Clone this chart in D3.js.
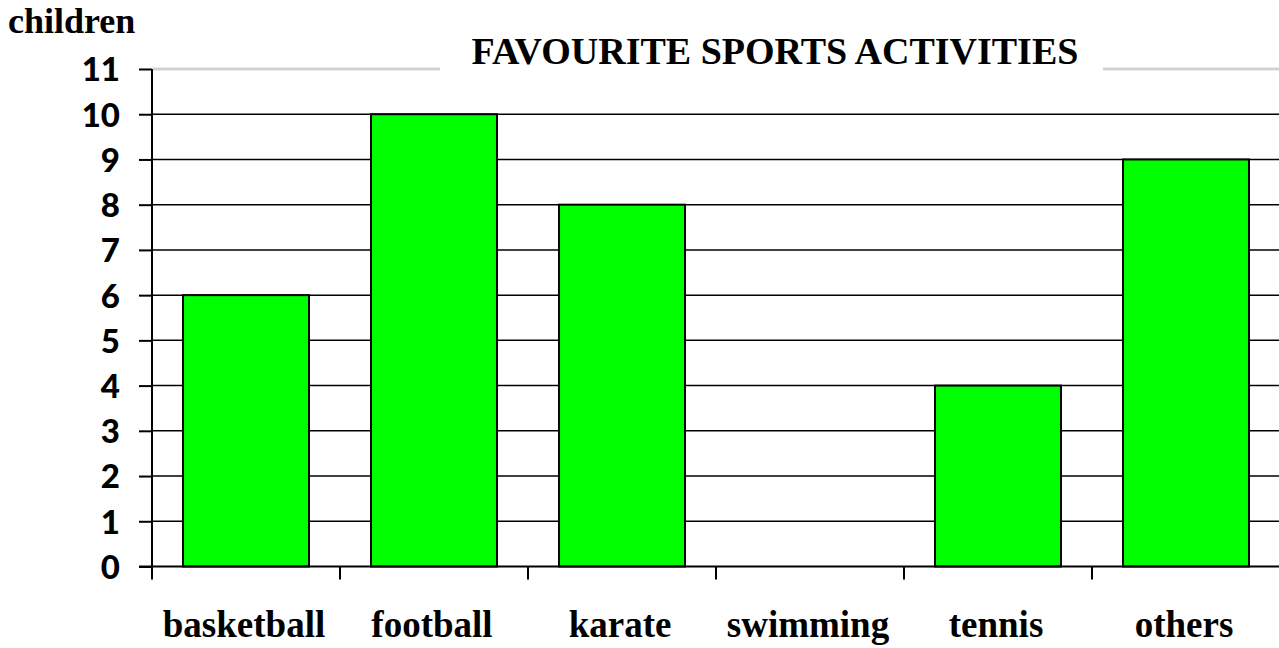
<!DOCTYPE html>
<html>
<head>
<meta charset="utf-8">
<script src="https://cdn.jsdelivr.net/npm/d3@7"></script>
<style>
  body { margin: 0; background: #fff; }
  .ylab { font-family: Lato, "Liberation Sans", sans-serif; font-weight: 900; font-size: 33px; }
  .serif { font-family: "Liberation Serif", "Times New Roman", serif; font-weight: bold; }
</style>
</head>
<body>
<div id="chart"></div>
<script>

var categories = ["basketball", "football", "karate", "swimming", "tennis", "others"];
var values = [6, 10, 8, 0, 4, 9];
var yTicks = [0, 1, 2, 3, 4, 5, 6, 7, 8, 9, 10, 11];
var title = "FAVOURITE SPORTS ACTIVITIES";
var yTitle = "children";

var width = 1279, height = 648;
var margin = { left: 152, right: 0, top: 69, bottom: 81 };

var svg = d3.select("#chart")
    .append("svg")
    .attr("width", width)
    .attr("height", height);

// slots for the ticks, bands for the bars
var xSlot = d3.scaleBand()
    .domain(categories)
    .range([margin.left, 1280])
    .padding(0);

var x = d3.scaleBand()
    .domain(categories)
    .range([margin.left, 1280])
    .paddingInner(0.33)
    .paddingOuter(0.165);

var y = d3.scaleLinear()
    .domain([0, 11])
    .range([height - margin.bottom - 0.5, margin.top]);

// gridlines 1..10
svg.selectAll(".grid")
    .data(yTicks.filter(function(d){ return d > 0 && d < 11; }))
    .enter()
    .append("line")
    .attr("class", "grid")
    .attr("x1", margin.left)
    .attr("x2", width)
    .attr("y1", function(d){ return y(d); })
    .attr("y2", function(d){ return y(d); })
    .style("stroke", "#000")
    .style("stroke-width", 1.5);

// top double grey line
[-0.8, 0.8].forEach(function(off){
    svg.append("line")
        .attr("x1", margin.left + 1)
        .attr("x2", width)
        .attr("y1", y(11) + off)
        .attr("y2", y(11) + off)
        .style("stroke", "#bdbdbd")
        .style("stroke-width", 1);
});

// white box behind the title, cuts the top line
svg.append("rect")
    .attr("x", 440).attr("y", 30)
    .attr("width", 1103 - 440).attr("height", 50)
    .style("fill", "#fff");

// bars
svg.selectAll(".bar")
    .data(values)
    .enter()
    .append("rect")
    .attr("class", "bar")
    .attr("x", function(d, i){ return x(categories[i]); })
    .attr("width", x.bandwidth())
    .attr("y", function(d){ return y(d); })
    .attr("height", function(d){ return y(0) - y(d); })
    .style("fill", "#00ff00")
    .style("stroke", "#000")
    .style("stroke-width", 2)
    .style("display", function(d){ return d > 0 ? null : "none"; });

// y axis
var yAxis = d3.axisLeft(y).tickValues(yTicks).tickSize(13).tickPadding(19);
var gy = svg.append("g")
    .attr("transform", "translate(" + margin.left + ",0)")
    .call(yAxis);
gy.select(".domain").remove();
gy.selectAll(".tick line").style("stroke", "#000").style("stroke-width", 2);
gy.selectAll(".tick text").attr("class", "ylab").attr("fill", "#000").attr("dy", "0.36em");
svg.append("line")
    .attr("x1", margin.left).attr("x2", margin.left)
    .attr("y1", y(11)).attr("y2", y(0) + 13)
    .style("stroke", "#000").style("stroke-width", 2);

// x axis line and slot ticks
svg.append("line")
    .attr("x1", margin.left - 13).attr("x2", width)
    .attr("y1", y(0)).attr("y2", y(0))
    .style("stroke", "#000").style("stroke-width", 2);

svg.selectAll(".xtick")
    .data(categories.slice(1))
    .enter()
    .append("line")
    .attr("x1", function(d){ return xSlot(d); })
    .attr("x2", function(d){ return xSlot(d); })
    .attr("y1", y(0))
    .attr("y2", y(0) + 13)
    .style("stroke", "#000").style("stroke-width", 2);

// category labels
svg.selectAll(".xlab")
    .data(categories)
    .enter()
    .append("text")
    .attr("class", "serif")
    .attr("x", function(d){ return xSlot(d) + xSlot.bandwidth() / 2 - 2; })
    .attr("y", 637)
    .style("text-anchor", "middle")
    .style("font-size", "37px")
    .text(function(d){ return d; });

// title
svg.append("text")
    .attr("class", "serif")
    .attr("x", 775)
    .attr("y", 64)
    .style("text-anchor", "middle")
    .style("font-size", "38px")
    .text(title);

svg.append("text")
    .attr("class", "serif")
    .attr("x", 8)
    .attr("y", 33)
    .style("font-size", "36px")
    .text(yTitle);

</script>
</body>
</html>
